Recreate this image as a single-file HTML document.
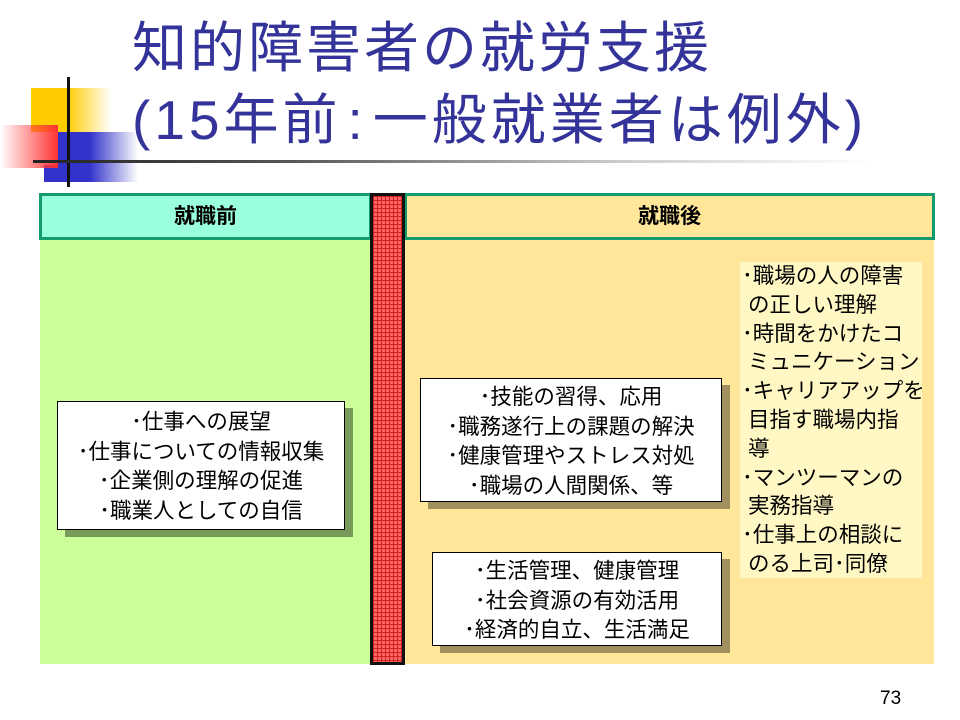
<!DOCTYPE html>
<html><head><meta charset="utf-8"><style>
body{margin:0;width:960px;height:720px;background:#fff;position:relative;overflow:hidden;font-family:"Liberation Sans","Noto Sans CJK JP",sans-serif;}
.a{position:absolute;}
.title{color:#333399;font-size:55px;line-height:72px;left:132px;top:12px;white-space:nowrap;letter-spacing:3px;}
.box{position:absolute;background:#fff;border:1px solid #000;text-align:center;font-size:21.5px;line-height:29.5px;color:#000;box-sizing:border-box;white-space:nowrap;}
</style></head><body>
<div class="a" style="left:31px;top:88px;width:80px;height:44px;background:linear-gradient(to right,#ffcc00 0,#ffcc00 45%,rgba(255,204,0,0) 100%)"></div>
<div class="a" style="left:58px;top:132px;width:80px;height:50px;background:linear-gradient(to right,#3333cc 0,#3333cc 40%,rgba(51,51,204,0) 100%)"></div>
<div class="a" style="left:44px;top:165px;width:20px;height:17px;background:#3333cc"></div>
<div class="a" style="left:0;top:125px;width:58px;height:43px;background:linear-gradient(to right,rgba(255,0,0,0) 0,#ff3333 100%)"></div>
<div class="a" style="left:67px;top:77px;width:3px;height:110px;background:#111"></div>
<div class="a" style="left:33px;top:160px;width:840px;height:3px;background:linear-gradient(to right,#222 0,#555 30%,#ccc 70%,rgba(255,255,255,0) 100%)"></div>
<div class="a title">知的障害者の就労支援<br><span style="letter-spacing:4px">(15年前<span style="padding:0 6px">:</span>一般就業者は例外)</span></div>
<div class="a" style="left:40px;top:240px;width:332px;height:424px;background:#ccff99"></div>
<div class="a" style="left:405px;top:240px;width:529px;height:424px;background:#ffe699"></div>
<div class="a" style="left:39px;top:193px;width:333px;height:47px;box-sizing:border-box;background:#99ffdd;border:3px solid #139a6e;text-align:center;font-weight:bold;font-size:21px;line-height:41px;">就職前</div>
<div class="a" style="left:404px;top:193px;width:531px;height:47px;box-sizing:border-box;background:#ffe699;border:3px solid #139a6e;text-align:center;font-weight:bold;font-size:21px;line-height:41px;">就職後</div>
<div class="a" style="left:370px;top:193px;width:35px;height:472px;box-sizing:border-box;border:3px solid #111;background-color:#ff6666;background-image:linear-gradient(to right,#cc2222 1px,transparent 1px),linear-gradient(to bottom,#cc2222 1px,transparent 1px);background-size:4px 4px;"></div>
<div class="a" style="left:65px;top:408px;width:288px;height:129px;background:#7a9a5a"></div>
<div class="box" style="left:57px;top:401px;width:288px;height:129px;padding-top:6px;">･仕事への展望<br>･仕事についての情報収集<br>･企業側の理解の促進<br>･職業人としての自信</div>
<div class="a" style="left:428px;top:385px;width:302px;height:124px;background:#a09060"></div>
<div class="box" style="left:420px;top:378px;width:302px;height:124px;padding-top:4px;">･技能の習得、応用<br>･職務遂行上の課題の解決<br>･健康管理やストレス対処<br>･職場の人間関係、等</div>
<div class="a" style="left:440px;top:559px;width:290px;height:94px;background:#a09060"></div>
<div class="box" style="left:432px;top:552px;width:290px;height:94px;padding-top:4px;">･生活管理、健康管理<br>･社会資源の有効活用<br>･経済的自立、生活満足</div>
<div class="a" style="left:740px;top:262px;width:182px;height:316px;background:#fff7c4;font-size:21.5px;line-height:28.8px;padding:0 0 0 2px;box-sizing:border-box;white-space:nowrap;overflow:hidden;">･職場の人の障害<br>&nbsp;の正しい理解<br>･時間をかけたコ<br>&nbsp;ミュニケーション<br>･キャリアアップを<br>&nbsp;目指す職場内指<br>&nbsp;導<br>･マンツーマンの<br>&nbsp;実務指導<br>･仕事上の相談に<br>&nbsp;のる上司･同僚</div>
<div class="a" style="left:880px;top:688px;font-size:19px;">73</div>
</body></html>
